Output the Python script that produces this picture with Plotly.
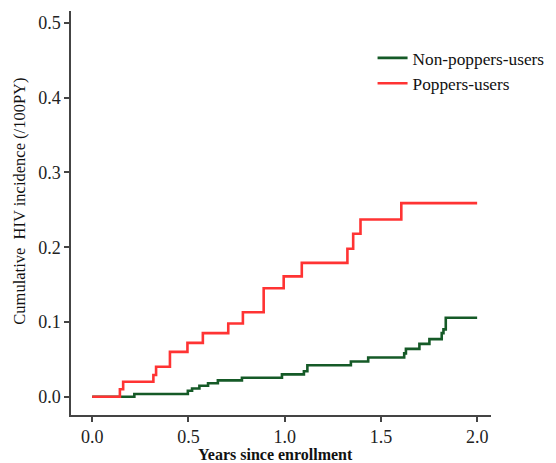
import plotly.graph_objects as go

# Kaplan-Meier style cumulative incidence
non_poppers_t = [0, 0.219, 0.497, 0.519, 0.557, 0.602, 0.653, 0.778, 0.986, 1.100, 1.118,
                 1.344, 1.434, 1.621, 1.630, 1.700, 1.752, 1.816, 1.825, 1.837, 2.0]
non_poppers_v = [0, 0.0036, 0.008, 0.011, 0.0147, 0.018, 0.0218, 0.0253, 0.0298, 0.034, 0.042,
                 0.047, 0.0524, 0.058, 0.064, 0.0707, 0.077, 0.085, 0.090, 0.1057, 0.1057]

poppers_t = [0, 0.144, 0.161, 0.318, 0.332, 0.404, 0.495, 0.575, 0.707, 0.783, 0.891,
             0.995, 1.089, 1.326, 1.356, 1.394, 1.606, 2.0]
poppers_v = [0, 0.010, 0.020, 0.029, 0.040, 0.060, 0.072, 0.085, 0.098, 0.113, 0.145,
             0.161, 0.179, 0.198, 0.218, 0.237, 0.259, 0.259]

x_ticks = [0.0, 0.5, 1.0, 1.5, 2.0]
y_ticks = [0.0, 0.1, 0.2, 0.3, 0.4, 0.5]

FONT = "Liberation Serif, Times New Roman, serif"

fig = go.Figure()
fig.add_trace(go.Scatter(x=non_poppers_t, y=non_poppers_v, mode="lines", line_shape="hv",
                         name="Non-poppers-users", line=dict(color="#155A27", width=2.6)))
fig.add_trace(go.Scatter(x=poppers_t, y=poppers_v, mode="lines", line_shape="hv",
                         name="Poppers-users", line=dict(color="#FF3333", width=2.6)))

# page body has an 8px margin, so the figure is 8px smaller than the window
fig.update_layout(
    width=548, height=455,
    margin=dict(l=63, r=65, t=3, b=48, autoexpand=False),
    paper_bgcolor="white", plot_bgcolor="white",
    font=dict(family=FONT, color="#222222", size=18),
    legend=dict(x=0.718, y=0.928, xanchor="left", yanchor="top",
                bgcolor="rgba(0,0,0,0)", font=dict(size=17.3, family=FONT, color="#111111"),
                tracegroupgap=0, itemwidth=30),
    xaxis=dict(range=[-0.11, 2.072], tickvals=x_ticks, ticktext=[f"{v:.1f}" for v in x_ticks],
               showgrid=False, zeroline=False, showline=True, linecolor="#444444", linewidth=1.5,
               ticks="outside", ticklen=5, tickcolor="#444444", tickwidth=1.5, automargin=False,
               tickfont=dict(size=18, family=FONT, color="#222222")),
    yaxis=dict(range=[-0.0245, 0.516], tickvals=y_ticks, ticktext=[f"{v:.1f}" for v in y_ticks],
               showgrid=False, zeroline=False, showline=True, linecolor="#444444", linewidth=1.5,
               ticks="outside", ticklen=5, tickcolor="#444444", tickwidth=1.5, automargin=False,
               tickfont=dict(size=18, family=FONT, color="#222222")),
    annotations=[
        dict(text="<b>Years since enrollment</b>", x=0.488, y=-0.099, xref="paper", yref="paper",
             xanchor="center", yanchor="middle", showarrow=False,
             font=dict(size=16, family=FONT, color="#111111")),
        dict(text="Cumulative  HIV incidence (/100PY)", x=-0.122, y=0.53, xref="paper", yref="paper",
             xanchor="center", yanchor="middle", showarrow=False, textangle=-90,
             font=dict(size=16.5, family=FONT, color="#111111")),
    ],
)

fig.write_html("out.html")
